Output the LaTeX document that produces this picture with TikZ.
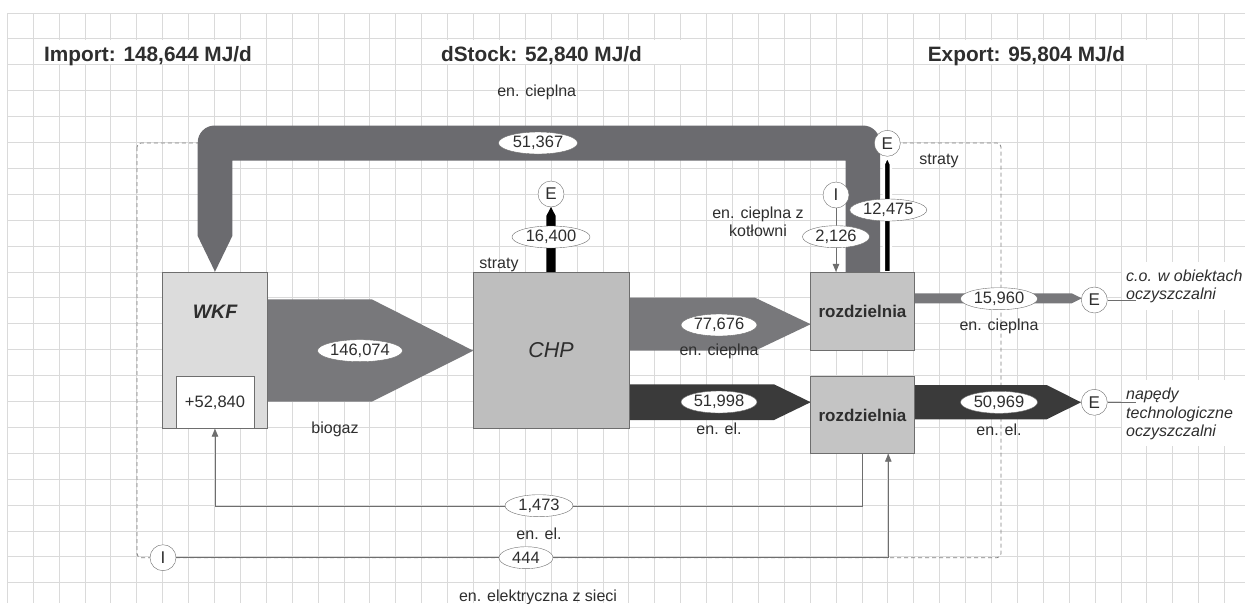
\documentclass[tikz,border=0pt]{standalone}
\usepackage{fontspec}
\setmainfont{Liberation Sans}
\usetikzlibrary{shapes.geometric,arrows.meta}
\newcommand\fsz[1]{\fontsize{#1}{#1}\selectfont}
\definecolor{gridc}{HTML}{DADADA}
\definecolor{pipec}{HTML}{6B6B6F}
\definecolor{flowc}{HTML}{78787B}
\definecolor{elc}{HTML}{3A3A3A}
\definecolor{wkfc}{HTML}{DCDCDC}
\definecolor{chpc}{HTML}{BEBEBE}
\definecolor{rozc}{HTML}{C4C4C4}
\definecolor{edgec}{HTML}{6E6E6E}
\definecolor{txtc}{HTML}{2E2E2E}
\begin{document}
\begin{tikzpicture}[x=1pt,y=1pt,yscale=-1,
  gridl/.style={draw=gridc, line width=0.9pt},
  val/.style={ellipse, draw=edgec, fill=white, inner sep=0pt, minimum height=22pt, text=txtc, font=\fsz{16.5}},
  term/.style={circle, draw=edgec, fill=white, inner sep=0pt, minimum size=26pt, text=txtc, font=\fsz{17}},
  lbl/.style={text=txtc, font=\fsz{16}, inner sep=0pt},
  ttl/.style={text=txtc, font=\fsz{20.8}\bfseries, inner sep=0pt},
  proc/.style={draw=edgec, line width=0.8pt, inner sep=0pt},
  roztxt/.style={text=txtc, font=\fsz{17}\bfseries, inner sep=0pt},
  conn/.style={draw=edgec, line width=0.9pt},
  tipk/.style={-{Triangle[length=8pt,width=6.5pt]}},
  boundary/.style={draw=gray, line width=0.8pt, dash pattern=on 4pt off 3pt, rounded corners=4pt},
  pipe/.style={fill=pipec},
  flow/.style={fill=flowc},
  elflow/.style={fill=elc},
  loss/.style={fill=black}
]
\useasboundingbox (0,0) rectangle (1245,603);
\fill[white] (0,0) rectangle (1245,603);
% grid
\foreach \i in {0,...,47} \draw[gridl] ({7.3+25.9*\i},13) -- ({7.3+25.9*\i},603);
\foreach \j in {0,...,22} \draw[gridl] (7.3,{13+25.9*\j}) -- (1245,{13+25.9*\j});
% title backgrounds
\fill[white] (35,40) rectangle (265,64);
\fill[white] (425,40) rectangle (706,64);
\fill[white] (916,40) rectangle (1172,64);
\fill[white] (1122,262) rectangle (1245,310);
\fill[white] (1122,380) rectangle (1245,446);
% titles
\node[ttl, anchor=base west] (imp) at (44,61.7) {Import: 148,644 MJ/d};
\node[ttl, anchor=base] (dst) at (541.5,61.7) {dStock: 52,840 MJ/d};
\node[ttl, anchor=base] (exp) at (1026.5,61.7) {Export: 95,804 MJ/d};
% system boundary
\draw[boundary] (137,143) rectangle (1001,557.7);
% heat return pipe
\fill[pipe] (197.7,236) -- (197.7,142.5) arc[start angle=180,end angle=270,radius=17]
  -- (863,125.5) arc[start angle=270,end angle=360,radius=17]
  -- (880,272.3) -- (845.7,272.3) -- (845.7,160.5) -- (232.3,160.5) -- (232.3,236)
  -- (215,271.7) -- cycle;
% broad flows
\fill[flow] (267.3,299.3) -- (371.7,299.3) -- (473.3,350.7) -- (371.7,401.7) -- (267.3,401.7) -- cycle;
\fill[flow] (629,297.7) -- (755,297.7) -- (810.7,324.2) -- (755,350.7) -- (629,350.7) -- cycle;
\fill[elflow] (629,384.3) -- (774,384.3) -- (810.7,402.2) -- (774,420) -- (629,420) -- cycle;
\fill[flow] (914.3,293.3) -- (1071.7,293.3) -- (1081.7,298.3) -- (1071.7,303.3) -- (914.3,303.3) -- cycle;
\fill[elflow] (914.3,385) -- (1046.7,385) -- (1081,402.3) -- (1046.7,419.3) -- (914.3,419.3) -- cycle;
% loss arrows
\fill[loss] (546.3,272.3) -- (546.3,216) -- (551,207) -- (555.7,216) -- (555.7,272.3) -- cycle;
\filldraw[loss, draw=white, line width=2.5pt] (883.8,272.3) -- (883.8,164) -- (887.3,156.5) -- (890.8,164) -- (890.8,272.3) -- cycle;
% process boxes
\node[proc, fill=wkfc, minimum width=104.6pt, minimum height=156pt] (wkf) at (215,350.3) {};
\node[proc, fill=white, minimum width=78.3pt, minimum height=51.6pt] (stock) at (215.2,402.5) {};
\node[text=txtc, font=\fsz{19.5}\bfseries\itshape, inner sep=0pt] (wkft) at (215,311.7) {WKF};
\node[lbl, font=\fsz{16.5}] (stockt) at (215,403) {+52,840};
\node[proc, fill=chpc, minimum width=155.7pt, minimum height=156pt] (chp) at (551.2,350.3) {};
\node[text=txtc, font=\fsz{21.5}\itshape, inner sep=0pt] (chpt) at (551,350) {CHP};
\node[proc, fill=rozc, minimum width=103.6pt, minimum height=78.4pt] (rozA) at (862.5,311.5) {};
\node[roztxt] (rozAt) at (862.5,311) {rozdzielnia};
\node[proc, fill=rozc, minimum width=103.6pt, minimum height=76.6pt] (rozB) at (862.5,415) {};
\node[roztxt] (rozBt) at (862.5,415.7) {rozdzielnia};
% terminals
\node[term] (eCHP) at (551,194) {E};
\node[term] (eR) at (887.3,143.3) {E};
\node[term] (iK) at (836,195) {I};
\node[term] (eH) at (1094.3,300) {E};
\node[term] (eEl) at (1094.3,402.3) {E};
\node[term] (iG) at (163,557.7) {I};
% thin connectors
\draw[conn, tipk] (iK) -- (iK |- rozA.north);
\draw[conn, tipk] (rozB.south) -- ++(0,52.4) -| (wkf.south);
\draw[conn, tipk] (iG) -| ([xshift=25.8pt]rozB.south);
\draw[conn] (eH.east) -- ++(28,0);
\draw[conn] (eEl.east) -- ++(28,0);
% values
\node[val, minimum width=79pt] (v51367) at (538,143) {51,367};
\node[val, minimum width=85pt] (v146074) at (360,350.7) {146,074};
\node[val, minimum width=78pt] (v16400) at (551,237) {16,400};
\node[val, minimum width=76pt] (v77676) at (719,325) {77,676};
\node[val, minimum width=76pt] (v51998) at (719,402) {51,998};
\node[val, minimum width=67pt] (v2126) at (836,236.7) {2,126};
\node[val, minimum width=77pt] (v12475) at (888.3,210) {12,475};
\node[val, minimum width=77pt] (v15960) at (999,298.7) {15,960};
\node[val, minimum width=77pt] (v50969) at (999,402.3) {50,969};
\node[val, minimum width=68pt] (v1473) at (539,505.7) {1,473};
\node[val, minimum width=54pt] (v444) at (526,557.7) {444};
% labels
\node[lbl] (l1) at (536.7,92) {en. cieplna};
\node[lbl] (l2) at (335,429) {biogaz};
\node[lbl] (l3) at (499,265) {straty};
\node[lbl, align=center, font=\fontsize{16}{18}\selectfont] (l4) at (758,222) {en. cieplna z\\kotłowni};
\node[lbl] (l5) at (939,160.7) {straty};
\node[lbl] (l6) at (719,351.7) {en. cieplna};
\node[lbl] (l7) at (719,429) {en. el.};
\node[lbl] (l8) at (999,326) {en. cieplna};
\node[lbl] (l9) at (999,429.3) {en. el.};
\node[lbl] (l10) at (539,533.3) {en. el.};
\node[lbl] (l11) at (538,597) {en. elektryczna z sieci};
\node[lbl, anchor=west, align=left, font=\fontsize{16}{18}\selectfont\itshape] (l12) at (1126,286) {c.o. w obiektach\\oczyszczalni};
\node[lbl, anchor=west, align=left, font=\fontsize{16}{18.5}\selectfont\itshape] (l13) at (1126,414) {napędy\\technologiczne\\oczyszczalni};
\end{tikzpicture}
\end{document}
